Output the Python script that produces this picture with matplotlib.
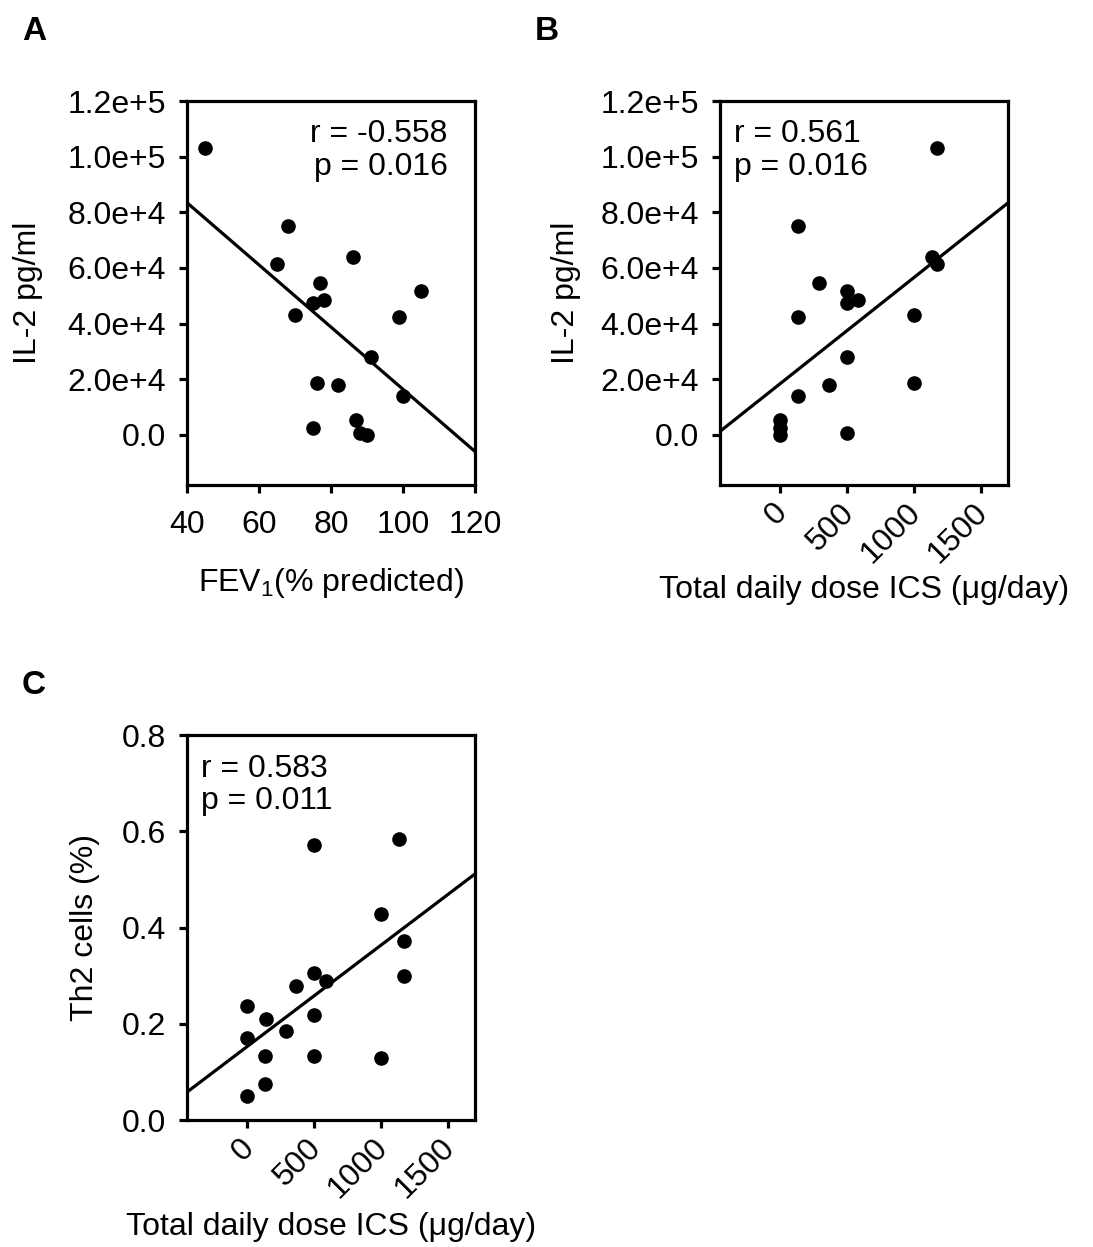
import matplotlib

matplotlib.use("Agg")
import matplotlib.pyplot as plt
import numpy as np

plt.rcParams["font.family"] = ["Liberation Sans", "DejaVu Sans"]
plt.rcParams["mathtext.fontset"] = "custom"
plt.rcParams["mathtext.rm"] = "Liberation Sans"
plt.rcParams["mathtext.it"] = "Liberation Sans"

FIGSIZE = (10.93, 12.47)
DPI = 100
FS = 23

# Panel A: FEV1 vs IL-2
fev1 = [45, 68, 65, 86, 77, 105, 75, 78, 70, 99, 91, 76, 82, 100, 87, 75, 88, 90]
il2 = [103000, 75000, 61300, 64000, 54500, 51700, 47500, 48500, 43100, 42300,
       28100, 18600, 18100, 14000, 5400, 2400, 600, 100]

# Panel B: ICS dose vs IL-2 (same IL-2 values)
ics_b = [1170, 136, 1171, 1131, 291, 500, 500, 585, 1000, 136,
         500, 1000, 365, 136, 0, 0, 500, 0]

# Panel C: ICS dose vs Th2 cells
ics_c = [1135, 501, 999, 1170, 1168, 498, 588, 367, 0, 141,
         500, 292, 0, 136, 500, 1000, 136, 0]
th2 = [0.585, 0.571, 0.429, 0.372, 0.299, 0.306, 0.288, 0.278, 0.237, 0.209,
       0.219, 0.186, 0.170, 0.133, 0.134, 0.129, 0.075, 0.049]

il2_ticks = [0, 20000, 40000, 60000, 80000, 100000, 120000]
il2_ticklabels = ["0.0", "2.0e+4", "4.0e+4", "6.0e+4", "8.0e+4", "1.0e+5", "1.2e+5"]
fev1_ticks = [40, 60, 80, 100, 120]
dose_ticks = [0, 500, 1000, 1500]
th2_ticks = [0.0, 0.2, 0.4, 0.6, 0.8]
th2_ticklabels = ["0.0", "0.2", "0.4", "0.6", "0.8"]

stats_a = "r = -0.558\np = 0.016"
stats_b = "r = 0.561\np = 0.016"
stats_c = "r = 0.583\np = 0.011"

DOSE_LABEL = "Total daily dose ICS (\u03bcg/day)"


def style_axes(ax):
    for sp in ax.spines.values():
        sp.set_linewidth(2.3)
    ax.tick_params(width=2.3, length=6, labelsize=FS, pad=9, direction="out")


def scatter_fit(ax, x, y, xlim):
    ax.plot(x, y, "o", color="black", markersize=9.5, zorder=3)
    slope, icpt = np.polyfit(x, y, 1)
    xs = np.array(xlim)
    ax.plot(xs, slope * xs + icpt, color="black", lw=2.3, zorder=2)
    ax.set_xlim(xlim)


def rotate_dose_ticks(ax):
    ax.set_xticks(dose_ticks)
    ax.set_xticklabels([str(t) for t in dose_ticks], rotation=45, ha="right",
                       va="center_baseline", rotation_mode="anchor")
    ax.tick_params(axis="x", pad=9)


def place_xlabel(ax, text, y):
    ax.set_xlabel(text, fontsize=FS, va="center")
    ax.xaxis.set_label_coords(0.5, y)


fig = plt.figure(figsize=FIGSIZE, dpi=DPI)

# A
ax = fig.add_axes([0.1711, 0.6111, 0.2635, 0.3079])
style_axes(ax)
scatter_fit(ax, fev1, il2, (40, 120))
ax.set_ylim(-18000, 120000)
ax.set_yticks(il2_ticks)
ax.set_yticklabels(il2_ticklabels)
ax.set_xticks(fev1_ticks)
ax.tick_params(axis="x", pad=12)
ax.set_ylabel("IL-2 pg/ml", fontsize=FS, labelpad=18)
place_xlabel(ax, "FEV$_1$(% predicted)", -0.255)
ax.text(0.905, 0.952, stats_a, transform=ax.transAxes, ha="right", va="top",
        fontsize=FS, linespacing=1.12)

# B
ax = fig.add_axes([0.6587, 0.6111, 0.2635, 0.3079])
style_axes(ax)
scatter_fit(ax, ics_b, il2, (-445, 1700))
ax.set_ylim(-18000, 120000)
ax.set_yticks(il2_ticks)
ax.set_yticklabels(il2_ticklabels)
rotate_dose_ticks(ax)
ax.set_ylabel("IL-2 pg/ml", fontsize=FS, labelpad=14)
place_xlabel(ax, DOSE_LABEL, -0.273)
ax.text(0.05, 0.952, stats_b, transform=ax.transAxes, ha="left", va="top",
        fontsize=FS, linespacing=1.12)

# C
ax = fig.add_axes([0.1711, 0.1018, 0.2635, 0.3087])
style_axes(ax)
scatter_fit(ax, ics_c, th2, (-445, 1700))
ax.set_ylim(0, 0.8)
ax.set_yticks(th2_ticks)
ax.set_yticklabels(th2_ticklabels)
rotate_dose_ticks(ax)
ax.set_ylabel("Th2 cells (%)", fontsize=FS, labelpad=16)
place_xlabel(ax, DOSE_LABEL, -0.278)
ax.text(0.05, 0.952, stats_c, transform=ax.transAxes, ha="left", va="top",
        fontsize=FS, linespacing=1.12)

# panel letters
for letter, (px, py) in {"A": (34, 31), "B": (547, 31), "C": (34, 686)}.items():
    fig.text(px / 1093, 1 - py / 1247, letter, fontsize=24, fontweight="bold",
             ha="center", va="center")

fig.savefig("out.png", dpi=DPI)
